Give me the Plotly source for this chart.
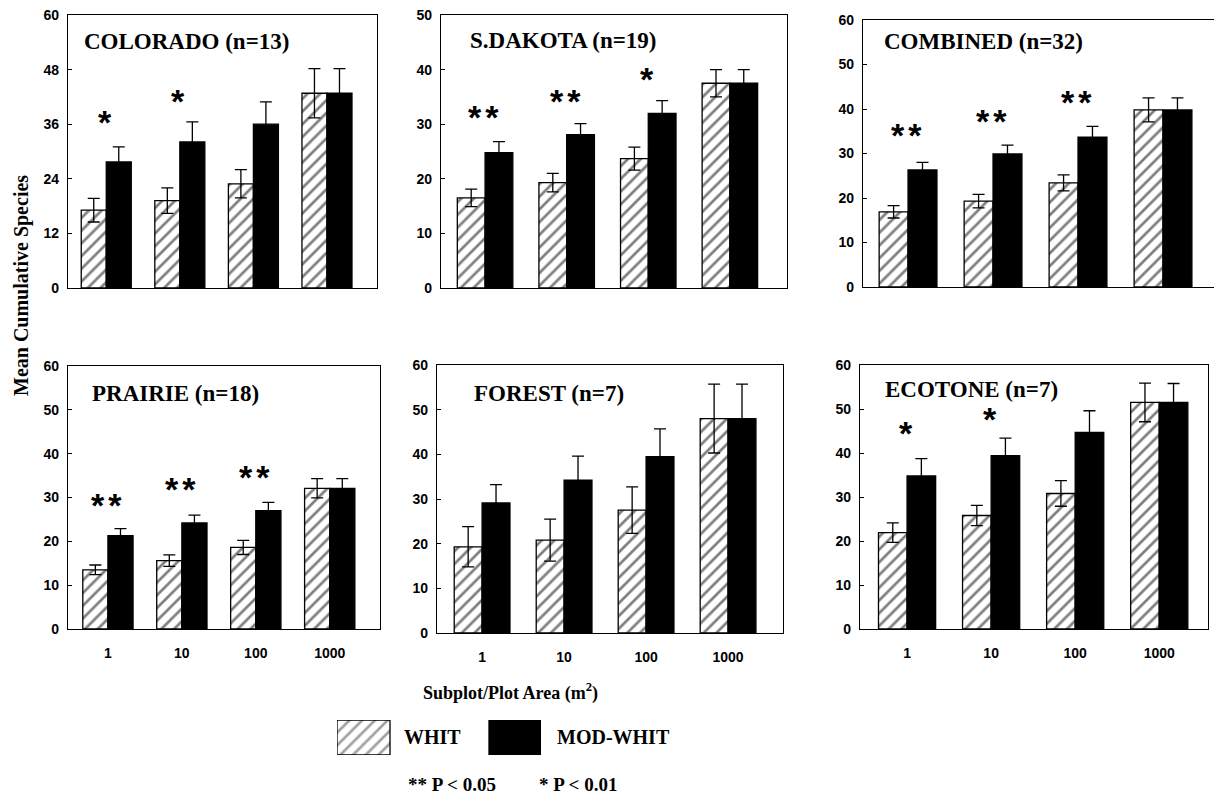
import plotly.graph_objects as go

W, H = 1214, 795

# ---------------- data ----------------
areas = ["1", "10", "100", "1000"]

colorado_whit = [17.1, 19.2, 22.9, 42.8]
colorado_whit_err = [2.6, 2.8, 3.1, 5.4]
colorado_mod = [27.7, 32.1, 36.0, 42.8]
colorado_mod_err = [3.3, 4.4, 4.9, 5.4]
colorado_sig = ["*", "*", "", ""]
colorado_sig_y = [37.3, 42.0, None, None]

sdakota_whit = [16.5, 19.3, 23.7, 37.5]
sdakota_whit_err = [1.6, 1.7, 2.1, 2.5]
sdakota_mod = [24.8, 28.1, 32.0, 37.5]
sdakota_mod_err = [2.0, 2.0, 2.3, 2.5]
sdakota_sig = ["**", "**", "*", ""]
sdakota_sig_y = [32.0, 35.0, 39.0, None]

combined_whit = [16.9, 19.3, 23.4, 39.8]
combined_whit_err = [1.4, 1.5, 1.8, 2.7]
combined_mod = [26.3, 29.9, 33.7, 39.8]
combined_mod_err = [1.7, 2.0, 2.4, 2.7]
combined_sig = ["**", "**", "**", ""]
combined_sig_y = [35.0, 38.2, 42.4, None]

prairie_whit = [13.5, 15.6, 18.6, 32.1]
prairie_whit_err = [1.1, 1.3, 1.6, 2.2]
prairie_mod = [21.3, 24.2, 27.0, 32.1]
prairie_mod_err = [1.6, 1.8, 1.9, 2.2]
prairie_sig = ["**", "**", "**", ""]
prairie_sig_y = [29.3, 32.8, 35.6, None]

forest_whit = [19.3, 20.8, 27.5, 48.0]
forest_whit_err = [4.5, 4.7, 5.2, 7.7]
forest_mod = [29.1, 34.2, 39.5, 48.0]
forest_mod_err = [4.1, 5.4, 6.2, 7.7]
forest_sig = ["", "", "", ""]
forest_sig_y = [None, None, None, None]

ecotone_whit = [21.9, 25.8, 30.8, 51.5]
ecotone_whit_err = [2.2, 2.3, 2.9, 4.4]
ecotone_mod = [34.8, 39.4, 44.7, 51.5]
ecotone_mod_err = [3.9, 4.0, 4.9, 4.3]
ecotone_sig = ["*", "*", "", ""]
ecotone_sig_y = [45.4, 48.6, None, None]

panel_titles = ["COLORADO (n=13)", "S.DAKOTA (n=19)", "COMBINED (n=32)",
                "PRAIRIE (n=18)", "FOREST (n=7)", "ECOTONE (n=7)"]
y_max = [60, 50, 60, 60, 60, 60]
y_step = [12, 10, 10, 10, 10, 10]

series_names = ["WHIT", "MOD-WHIT"]
y_title = "Mean Cumulative Species"
x_title = "Subplot/Plot Area (m<sup>2</sup>)"
sig_notes = ["** P < 0.05", "* P < 0.01"]

panels_data = [
    (colorado_whit, colorado_whit_err, colorado_mod, colorado_mod_err, colorado_sig, colorado_sig_y),
    (sdakota_whit, sdakota_whit_err, sdakota_mod, sdakota_mod_err, sdakota_sig, sdakota_sig_y),
    (combined_whit, combined_whit_err, combined_mod, combined_mod_err, combined_sig, combined_sig_y),
    (prairie_whit, prairie_whit_err, prairie_mod, prairie_mod_err, prairie_sig, prairie_sig_y),
    (forest_whit, forest_whit_err, forest_mod, forest_mod_err, forest_sig, forest_sig_y),
    (ecotone_whit, ecotone_whit_err, ecotone_mod, ecotone_mod_err, ecotone_sig, ecotone_sig_y),
]

# ---------------- layout geometry (pixels) ----------------
geom = [
    dict(box=(68, 377, 15, 288), xr=(-0.52, 3.68), tpos=(82, 42), right=True),
    dict(box=(441, 787, 15, 288), xr=(-0.54, 3.70), tpos=(468, 41), right=True),
    dict(box=(863, 1214, 20, 287), xr=(-0.53, 3.60), tpos=(882, 42), right=False),
    dict(box=(68, 380, 366, 629), xr=(-0.54, 3.68), tpos=(90, 393), right=True),
    dict(box=(437, 783, 365, 633), xr=(-0.55, 3.67), tpos=(472, 393), right=True),
    dict(box=(860, 1208, 365, 629), xr=(-0.56, 3.58), tpos=(883, 389), right=True),
]


def px(x):
    return x / W


def py(y):
    return 1 - y / H


SERIF = "Liberation Serif"
SANS = "Liberation Sans"

fig = go.Figure()
layout = dict(
    width=W, height=H,
    margin=dict(l=0, r=0, t=0, b=0, autoexpand=False),
    paper_bgcolor="white", plot_bgcolor="white",
    barmode="group", bargap=0.32, bargroupgap=0.0,
    showlegend=False,
)
annotations = []

HATCH = dict(shape="/", fgcolor="black", bgcolor="white", size=9, solidity=0.3)

for i, (g, d) in enumerate(zip(geom, panels_data)):
    n = i + 1
    xa = "x" if n == 1 else f"x{n}"
    ya = "y" if n == 1 else f"y{n}"
    whit, whit_err, mod, mod_err, sig, sig_y = d
    fig.add_trace(go.Bar(
        x=areas, y=whit, xaxis=xa, yaxis=ya, name=series_names[0],
        marker=dict(color="white", line=dict(color="black", width=1.3), pattern=HATCH),
        error_y=dict(type="data", array=whit_err, visible=True, color="black",
                     thickness=1.3, width=6),
    ))
    fig.add_trace(go.Bar(
        x=areas, y=mod, xaxis=xa, yaxis=ya, name=series_names[1],
        marker=dict(color="black", line=dict(color="black", width=1.3)),
        error_y=dict(type="data", array=mod_err, visible=True, color="black",
                     thickness=1.3, width=6),
    ))
    l, r, t, b = g["box"]
    bottom_row = i >= 3
    layout["xaxis" if n == 1 else f"xaxis{n}"] = dict(
        domain=[px(l), px(r)], anchor=ya, type="category",
        range=list(g["xr"]), showgrid=False, zeroline=False,
        showline=True, linecolor="black", linewidth=1.2, mirror=True,
        ticks="", showticklabels=bottom_row, ticklabelstandoff=11,
        tickfont=dict(family=SANS, size=14, color="black", weight="bold"),
    )
    layout["yaxis" if n == 1 else f"yaxis{n}"] = dict(
        domain=[py(b), py(t)], anchor=xa, range=[0, y_max[i]],
        tickmode="array", tickvals=list(range(0, y_max[i] + 1, y_step[i])),
        showgrid=False, zeroline=False,
        showline=True, linecolor="black", linewidth=1.2,
        mirror=True if g["right"] else False,
        ticks="inside", ticklen=4, tickwidth=1, tickcolor="black",
        ticklabelstandoff=5,
        tickfont=dict(family=SANS, size=14, color="black", weight="bold"),
    )
    tx, ty = g["tpos"]
    annotations.append(dict(
        xref="paper", yref="paper", x=px(tx), y=py(ty), xanchor="left", yanchor="middle",
        text=f"<b>{panel_titles[i]}</b>", showarrow=False,
        font=dict(family=SERIF, size=23, color="black"),
    ))
    for k, s in enumerate(sig):
        if s:
            annotations.append(dict(
                xref=xa, yref=ya, x=k, y=sig_y[k], yshift=-4,
                xanchor="center", yanchor="middle", showarrow=False,
                text=f'<span style="letter-spacing:4px">{s}</span>',
                font=dict(family=SANS, size=34, color="black", weight="bold"),
            ))

# legend swatches on a hidden axis
layout["xaxis7"] = dict(domain=[px(337), px(541)], anchor="y7", range=[0, 204], visible=False)
layout["yaxis7"] = dict(domain=[py(755), py(720)], anchor="x7", range=[0, 1], visible=False)
fig.add_trace(go.Bar(
    x=[26.5, 178], y=[1, 1], width=[53, 52], xaxis="x7", yaxis="y7",
    marker=dict(color=["white", "black"], line=dict(color="black", width=1.3),
                pattern=dict(shape=["/", ""], fgcolor="black", size=9, solidity=0.3)),
    hoverinfo="skip",
))


def note(x, y, text, size, xanchor="left", angle=0):
    return dict(xref="paper", yref="paper", x=px(x), y=py(y), xanchor=xanchor,
                yanchor="middle", textangle=angle, text=f"<b>{text}</b>",
                showarrow=False, font=dict(family=SERIF, size=size, color="black"))


annotations += [
    note(22, 286, y_title, 20, xanchor="center", angle=-90),
    note(510, 692, x_title, 18, xanchor="center"),
    note(402, 737, series_names[0], 20),
    note(555, 737, series_names[1], 20),
    note(406, 784, sig_notes[0], 19),
    note(537, 784, sig_notes[1], 19),
]
layout["annotations"] = annotations
fig.update_layout(**layout)

fig.write_html("out.html", config={"displayModeBar": False},
               post_script="document.body.style.margin='0';")
